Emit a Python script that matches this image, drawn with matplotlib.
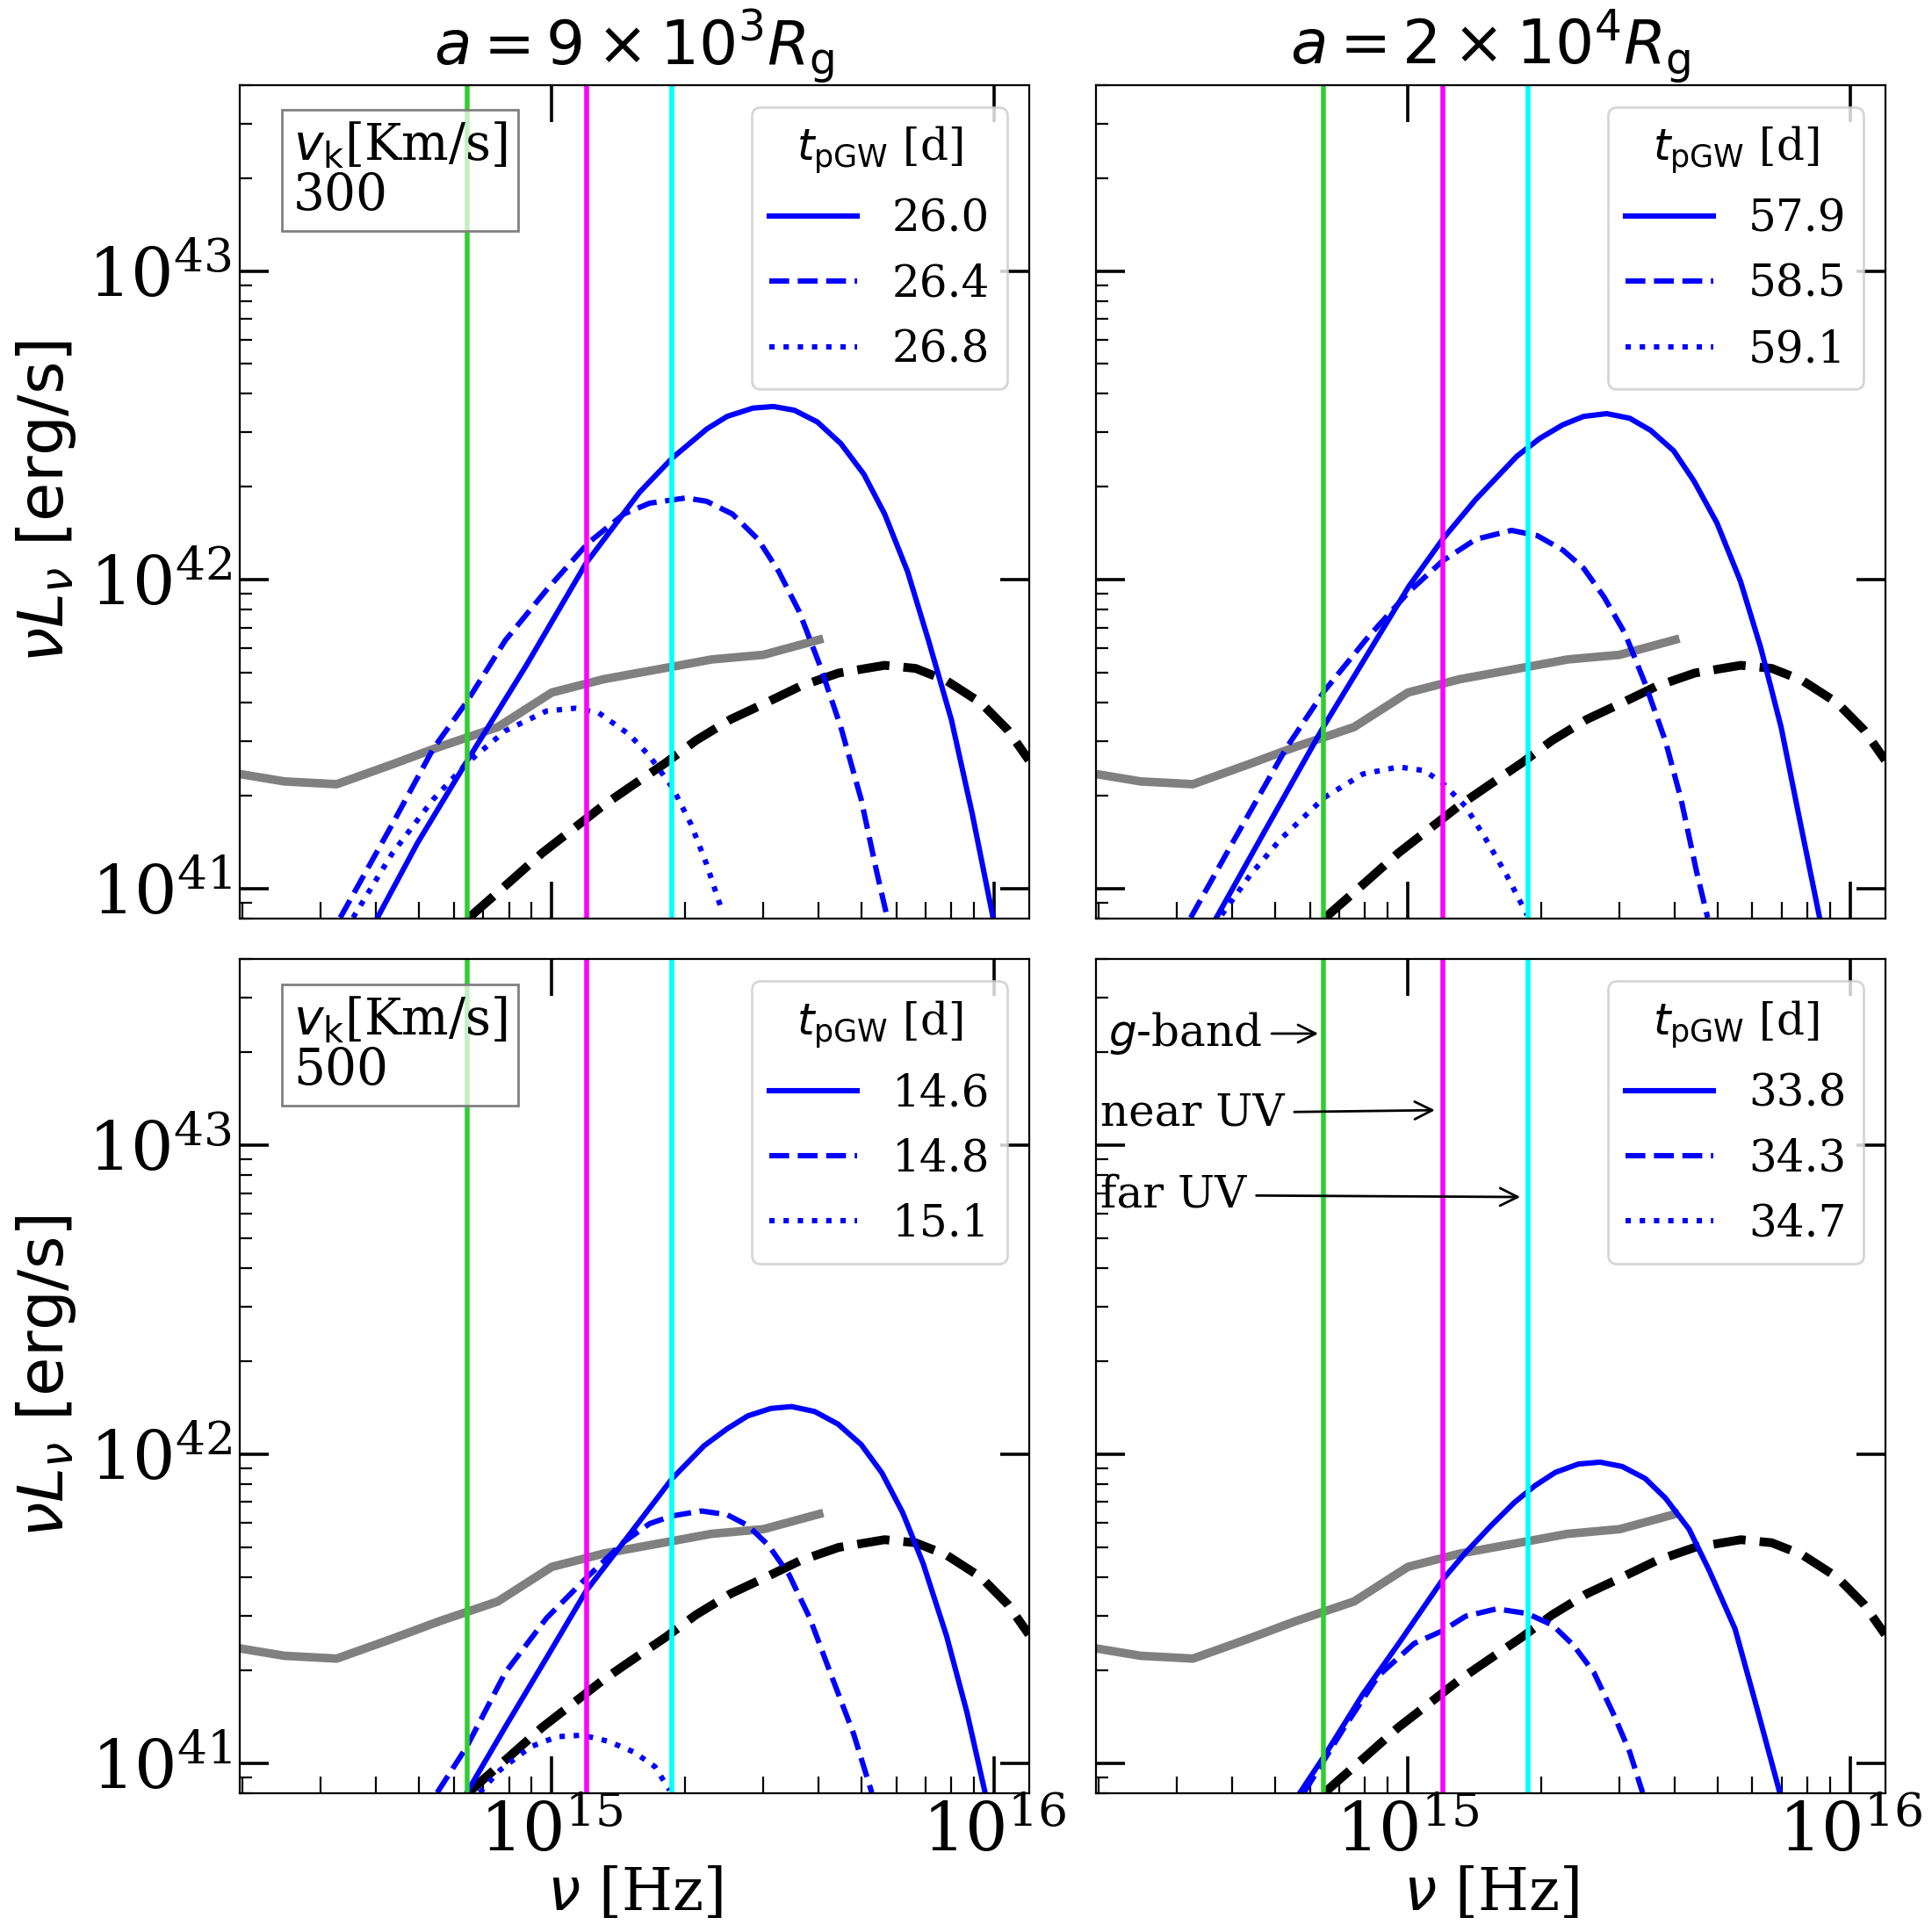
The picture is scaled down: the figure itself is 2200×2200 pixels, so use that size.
import matplotlib.pyplot as plt
import numpy as np
from matplotlib.ticker import NullFormatter

plt.rcParams['font.family'] = 'serif'
plt.rcParams['font.serif'] = ['DejaVu Serif']
plt.rcParams['mathtext.fontset'] = 'dejavusans'

# band frequencies [Hz]
nu_g = 6.43e14
nu_nuv = 1.2e15
nu_fuv = 1.87e15

# gray reference SED (log10 nu, log10 nuLnu)
gray_x = [14.295, 14.396, 14.514, 14.639, 14.744, 14.878, 15.0, 15.117, 15.274, 15.361, 15.478, 15.604]
gray_y = [41.371, 41.347, 41.338, 41.402, 41.458, 41.523, 41.635, 41.678, 41.719, 41.742, 41.757, 41.806]

# black dashed disk curve
bb_x = [14.813, 14.909, 14.978, 15.048, 15.117, 15.187, 15.257, 15.326, 15.404, 15.483, 15.561,
        15.648, 15.752, 15.822, 15.891, 15.970, 16.030, 16.078]
bb_y = [40.906, 41.027, 41.115, 41.193, 41.270, 41.339, 41.407, 41.480, 41.548, 41.601, 41.655,
        41.698, 41.723, 41.713, 41.674, 41.601, 41.514, 41.416]

# top left: a = 9e3 Rg, vk = 300
tl_t = ['26.0', '26.4', '26.8']
tl_x0 = [14.606, 14.697, 14.808, 14.942, 15.078, 15.198, 15.272, 15.350, 15.396, 15.455, 15.501,
         15.548, 15.600, 15.653, 15.705, 15.752, 15.804, 15.851, 15.903, 15.950, 15.997]
tl_y0 = [40.906, 41.149, 41.412, 41.722, 42.055, 42.283, 42.394, 42.488, 42.529, 42.556, 42.561,
         42.549, 42.511, 42.441, 42.342, 42.213, 42.026, 41.804, 41.546, 41.242, 40.906]
tl_x1 = [14.522, 14.639, 14.732, 14.808, 14.895, 14.988, 15.082, 15.163, 15.221, 15.303, 15.350,
         15.408, 15.466, 15.513, 15.559, 15.606, 15.653, 15.699, 15.734, 15.758]
tl_y1 = [40.906, 41.207, 41.453, 41.605, 41.804, 41.967, 42.119, 42.213, 42.248, 42.265, 42.254,
         42.213, 42.131, 42.026, 41.897, 41.722, 41.523, 41.289, 41.055, 40.906]
tl_x2 = [14.551, 14.639, 14.732, 14.808, 14.895, 14.988, 15.052, 15.105, 15.175, 15.221, 15.274,
         15.315, 15.350, 15.385]
tl_y2 = [40.906, 41.113, 41.289, 41.406, 41.511, 41.575, 41.584, 41.570, 41.499, 41.429, 41.324,
         41.207, 41.078, 40.926]

# top right: a = 2e4 Rg, vk = 300
tr_t = ['57.9', '58.5', '59.1']
tr_x0 = [14.567, 14.666, 14.811, 15.002, 15.078, 15.153, 15.246, 15.298, 15.350, 15.397, 15.449,
         15.501, 15.548, 15.600, 15.646, 15.698, 15.751, 15.797, 15.843, 15.884, 15.930]
tr_y0 = [40.906, 41.160, 41.529, 41.979, 42.131, 42.260, 42.400, 42.458, 42.502, 42.529, 42.538,
         42.523, 42.484, 42.418, 42.320, 42.184, 41.996, 41.780, 41.523, 41.230, 40.906]
tr_x1 = [14.509, 14.608, 14.724, 14.811, 14.910, 15.002, 15.078, 15.153, 15.234, 15.292, 15.350,
         15.397, 15.443, 15.490, 15.536, 15.582, 15.617, 15.652, 15.677]
tr_y1 = [40.906, 41.160, 41.453, 41.640, 41.815, 41.961, 42.061, 42.131, 42.160, 42.143, 42.096,
         42.037, 41.944, 41.827, 41.663, 41.476, 41.289, 41.055, 40.906]
tr_x2 = [14.579, 14.643, 14.712, 14.811, 14.898, 14.979, 15.037, 15.078, 15.130, 15.176, 15.223, 15.269]
tr_y2 = [40.915, 41.043, 41.160, 41.295, 41.371, 41.394, 41.382, 41.342, 41.266, 41.160, 41.043, 40.915]

# bottom left: a = 9e3 Rg, vk = 500
bl_t = ['14.6', '14.8', '15.1']
bl_x0 = [14.808, 14.895, 14.988, 15.078, 15.175, 15.272, 15.344, 15.396, 15.443, 15.495, 15.542,
         15.594, 15.647, 15.699, 15.746, 15.793, 15.839, 15.892, 15.938, 15.979]
bl_y0 = [40.904, 41.117, 41.340, 41.558, 41.739, 41.921, 42.027, 42.082, 42.124, 42.148, 42.154,
         42.138, 42.097, 42.031, 41.939, 41.810, 41.646, 41.411, 41.164, 40.904]
bl_x1 = [14.741, 14.808, 14.895, 14.988, 15.078, 15.163, 15.221, 15.272, 15.338, 15.396, 15.443,
         15.490, 15.536, 15.583, 15.629, 15.682, 15.723]
bl_y1 = [40.904, 41.053, 41.293, 41.469, 41.599, 41.716, 41.775, 41.800, 41.816, 41.804, 41.769,
         41.704, 41.610, 41.469, 41.293, 41.094, 40.904]
bl_x2 = [14.837, 14.883, 14.953, 15.012, 15.070, 15.128, 15.186, 15.233, 15.266]
bl_y2 = [40.904, 40.977, 41.053, 41.085, 41.090, 41.070, 41.035, 40.988, 40.912]

# bottom right: a = 2e4 Rg, vk = 500 (34.7 d curve stays below the plotted range)
br_t = ['33.8', '34.3', '34.7']
br_x0 = [14.756, 14.811, 14.898, 14.979, 15.078, 15.130, 15.188, 15.240, 15.287, 15.333, 15.385,
         15.434, 15.484, 15.536, 15.582, 15.635, 15.681, 15.739, 15.791, 15.840]
br_y0 = [40.904, 41.023, 41.223, 41.387, 41.593, 41.681, 41.769, 41.843, 41.898, 41.941, 41.968,
         41.974, 41.960, 41.921, 41.857, 41.757, 41.622, 41.434, 41.164, 40.904]
br_x1 = [14.765, 14.852, 14.933, 15.014, 15.078, 15.130, 15.200, 15.269, 15.327, 15.374, 15.420,
         15.466, 15.501, 15.530]
br_y1 = [40.904, 41.106, 41.282, 41.387, 41.428, 41.475, 41.499, 41.484, 41.446, 41.381, 41.293,
         41.153, 41.035, 40.904]
br_x2 = []
br_y2 = []

titles = [r'$a=9\times10^3R_{\rm g}$', r'$a=2\times10^4R_{\rm g}$']
vk_labels = ['300', '500']

panels = [
    (tl_t, [(tl_x0, tl_y0), (tl_x1, tl_y1), (tl_x2, tl_y2)]),
    (tr_t, [(tr_x0, tr_y0), (tr_x1, tr_y1), (tr_x2, tr_y2)]),
    (bl_t, [(bl_x0, bl_y0), (bl_x1, bl_y1), (bl_x2, bl_y2)]),
    (br_t, [(br_x0, br_y0), (br_x1, br_y1), (br_x2, br_y2)]),
]
styles = ['-', '--', ':']

fig, axes = plt.subplots(2, 2, figsize=(11, 11), dpi=200)
fig.subplots_adjust(left=0.124, right=0.976, top=0.956, bottom=0.072, wspace=0.084, hspace=0.049)

for k, ax in enumerate(axes.flat):
    times, curves = panels[k]
    row, col = divmod(k, 2)

    ax.plot(10**np.array(gray_x), 10**np.array(gray_y), color='gray', lw=3.5)
    ax.plot(10**np.array(bb_x), 10**np.array(bb_y), color='black', ls='--', lw=3.6)
    for (x, y), ls, t in zip(curves, styles, times):
        ax.plot(10**np.array(x, dtype=float), 10**np.array(y, dtype=float),
                color='blue', ls=ls, lw=2.2, label=t)

    ax.axvline(nu_g, color='limegreen', lw=2)
    ax.axvline(nu_nuv, color='magenta', lw=2)
    ax.axvline(nu_fuv, color='cyan', lw=2)

    ax.set_xscale('log')
    ax.set_yscale('log')
    ax.set_xlim(1.97e14, 1.2e16)
    ax.set_ylim(8e40, 4e43)

    ax.tick_params(which='major', direction='in', top=True, right=True,
                   width=1.3, labelsize=27.5, pad=3)
    ax.tick_params(which='minor', direction='in', top=False, right=False, width=0.8)
    ax.tick_params(axis='x', which='major', length=15)
    ax.tick_params(axis='x', which='minor', length=7)
    ax.tick_params(axis='y', which='major', length=12)
    ax.tick_params(axis='y', which='minor', length=5)
    ax.xaxis.set_minor_formatter(NullFormatter())
    ax.yaxis.set_minor_formatter(NullFormatter())

    if row == 0:
        ax.set_title(titles[col], fontsize=25, pad=-6)
        ax.tick_params(labelbottom=False)
    else:
        ax.set_xlabel(r'$\nu$ [Hz]', fontsize=24, labelpad=0)
    if col == 0:
        ax.set_ylabel(r'$\nu L_\nu$ [erg/s]', fontsize=26, family='DejaVu Sans')
        ax.text(0.068, 0.957, r'$v_{\rm k}$[Km/s]' + '\n' + vk_labels[row], transform=ax.transAxes,
                fontsize=20.4, va='top', ha='left', linespacing=1.0,
                bbox=dict(boxstyle='square,pad=0.22', fc=(1, 1, 1, 0.7), ec='gray'))
    else:
        ax.tick_params(labelleft=False)

    ax.legend(loc='upper right', fontsize=18, title=r'$t_{\rm pGW}$ [d]', title_fontsize=18)

# band annotations in the last panel
ax = axes[1, 1]
ax.annotate(r'$g$-band', xy=(nu_g, 2.3e43), xytext=(2.1e14, 2.3e43), fontsize=18,
            va='center', ha='left', arrowprops=dict(arrowstyle='->', color='black', lw=1))
ax.annotate('near UV', xy=(1.18e15, 1.3e43), xytext=(2.02e14, 1.27e43), fontsize=18,
            va='center', ha='left', arrowprops=dict(arrowstyle='->', color='black', lw=1))
ax.annotate('far UV', xy=(1.84e15, 6.8e42), xytext=(2.02e14, 6.9e42), fontsize=18,
            va='center', ha='left', arrowprops=dict(arrowstyle='->', color='black', lw=1))

fig.savefig('out.png', dpi=200)
